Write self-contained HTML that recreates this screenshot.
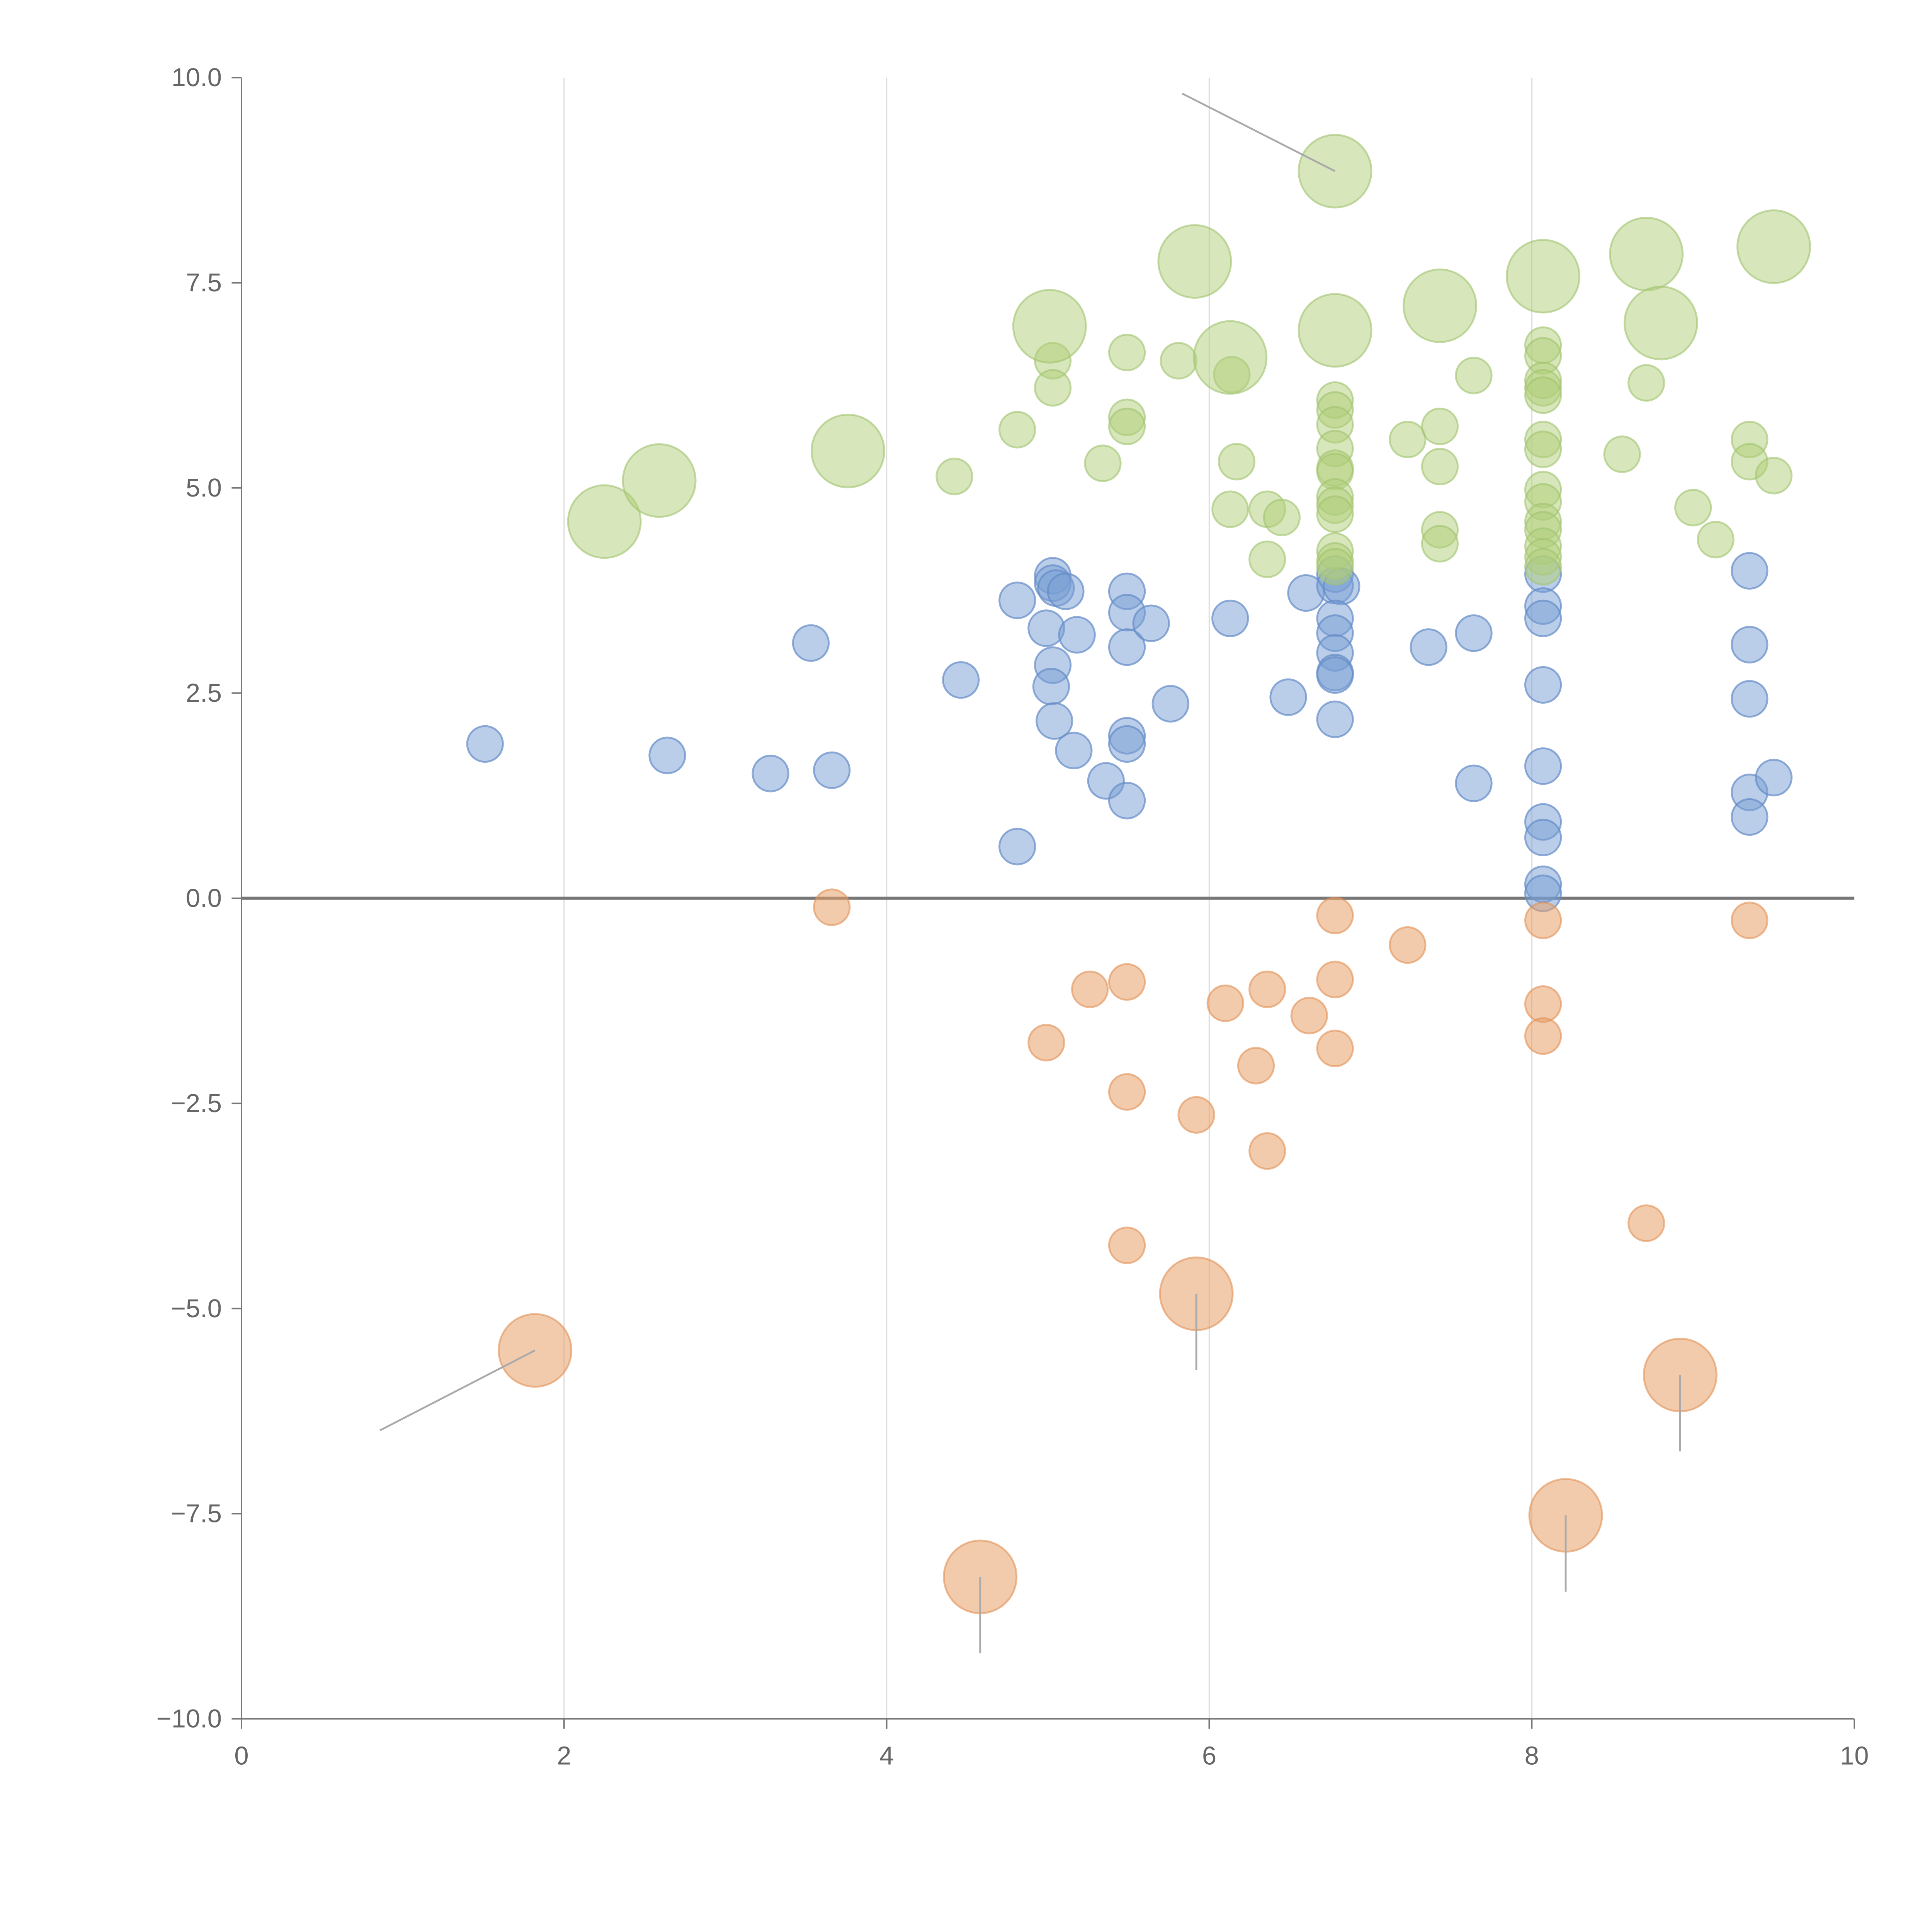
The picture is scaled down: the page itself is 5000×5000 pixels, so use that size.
<!DOCTYPE html>
<html><head><meta charset="utf-8"><style>
html,body{margin:0;padding:0;background:#fff;}
svg{display:block;}
text{font-family:"Liberation Sans",Arial,sans-serif;fill:#666;font-size:21px;}
</style></head>
<body>
<svg id="chart" width="5000" height="5000" viewBox="0 0 1568 1568" xmlns="http://www.w3.org/2000/svg">
<g id="grid"></g>
<g id="axes"></g>
<g id="marks"></g>
</svg>
<script>
const xTicks=[0,2,4,6,8,10];
const yTicks=[10,7.5,5,2.5,0,-2.5,-5,-7.5,-10];
const yTickLabels=["10.0","7.5","5.0","2.5","0.0","\u22122.5","\u22125.0","\u22127.5","\u221210.0"];
const blueX=[1.51,2.64,3.28,3.66,3.53,4.46,4.81,4.81,4.99,5.03,5.03,5.05,5.11,5.03,5.02,5.04,5.16,5.18,5.36,5.49,5.49,5.49,5.49,5.49,5.49,5.64,5.76,6.13,6.49,6.60,6.78,6.78,6.82,6.78,6.78,6.78,6.78,6.78,6.78,7.36,7.64,7.64,8.07,8.07,8.07,8.07,8.07,8.07,8.07,8.07,8.07,9.35,9.35,9.35,9.35,9.35,9.50];
const blueY=[1.88,1.74,1.52,1.56,3.11,2.66,3.63,0.63,3.29,3.93,3.84,3.78,3.74,2.84,2.58,2.16,1.80,3.21,1.43,3.74,3.48,3.06,1.98,1.88,1.19,3.35,2.37,3.41,2.45,3.72,3.95,3.81,3.80,3.41,3.23,2.99,2.75,2.72,2.18,3.06,3.23,1.40,3.95,3.56,3.41,2.60,1.61,0.93,0.74,0.17,0.06,3.99,3.09,2.43,1.29,0.99,1.47];
const greenX=[4.42,4.81,5.03,5.03,5.34,5.49,5.49,5.49,5.81,6.17,6.13,6.14,6.36,6.45,6.36,6.78,6.78,6.78,6.78,6.78,6.78,6.78,6.78,6.78,6.78,6.78,6.78,7.23,7.43,7.43,7.43,7.43,7.64,8.07,8.07,8.07,8.07,8.07,8.07,8.07,8.07,8.07,8.07,8.07,8.07,8.07,8.07,8.56,8.71,9.00,9.14,9.35,9.35,9.50];
const greenY=[5.14,5.71,6.55,6.22,5.30,6.65,5.86,5.75,6.55,5.32,4.74,6.38,4.74,4.64,4.13,6.07,5.95,5.77,5.48,5.24,5.20,4.89,4.79,4.68,4.23,4.11,4.04,5.59,5.75,5.26,4.49,4.32,6.37,6.74,6.61,6.31,6.22,6.13,5.59,5.47,4.98,4.83,4.59,4.49,4.29,4.16,4.04,5.41,6.28,4.76,4.37,5.59,5.32,5.15];
const greenBigX=[2.25,2.59,3.76,5.01,5.91,6.13,6.78,6.78,7.43,8.07,8.71,8.80,9.50];
const greenBigY=[4.59,5.09,5.45,6.97,7.76,6.59,8.86,6.92,7.22,7.58,7.85,7.01,7.94];
const orangeX=[3.66,4.99,5.26,5.49,5.49,5.49,5.92,6.10,6.29,6.36,6.36,6.62,6.78,6.78,6.78,7.23,8.07,8.07,8.07,8.71,9.35];
const orangeY=[-0.11,-1.76,-1.11,-1.02,-2.36,-4.23,-2.64,-1.28,-2.04,-1.11,-3.08,-1.43,-0.21,-0.99,-1.83,-0.57,-0.27,-1.29,-1.68,-3.96,-0.27];
const orangeBigX=[1.82,4.58,5.92,8.21,8.92];
const orangeBigY=[-5.51,-8.27,-4.82,-7.52,-5.81];

const X0=196,X1=1505,Y0=1395,Y1=63;
const sx=v=>X0+(v-0)/(10-0)*(X1-X0);
const sy=v=>Y0-(v+10)/20*(Y0-Y1);
const NS="http://www.w3.org/2000/svg";
function mk(tag,attrs,parent){const e=document.createElementNS(NS,tag);for(const k in attrs)e.setAttribute(k,attrs[k]);parent.appendChild(e);return e;}
const grid=document.getElementById('grid'),axes=document.getElementById('axes'),marks=document.getElementById('marks');

xTicks.forEach(t=>{
  if(t>0&&t<10){const g=mk('line',{x1:sx(t),x2:sx(t),y1:Y1,y2:Y0,stroke:'#dedede','stroke-width':1},grid);
  
  }
  const tk=mk('line',{x1:sx(t),x2:sx(t),y1:Y0,y2:Y0+8,stroke:'#777','stroke-width':1.2},axes);
  
  
  const tx=mk('text',{x:sx(t),y:Y0+37,'text-anchor':'middle'},axes);tx.textContent=t;
  
  
});
yTicks.forEach((t,i)=>{
  const tk=mk('line',{x1:X0-8,x2:X0,y1:sy(t),y2:sy(t),stroke:'#777','stroke-width':1.2},axes);
  
  
  const tx=mk('text',{x:X0-16,y:sy(t)+7,'text-anchor':'end'},axes);tx.textContent=yTickLabels[i];
  
  
});
const ya=mk('line',{x1:X0,x2:X0,y1:Y1,y2:Y0,stroke:'#777','stroke-width':1.2},axes);


const xa=mk('line',{x1:X0,x2:X1,y1:Y0,y2:Y0,stroke:'#777','stroke-width':1.2},axes);


const zl=mk('line',{x1:X0,x2:X1,y1:sy(0),y2:sy(0),stroke:'#777','stroke-width':2.5},axes);



function series(xs,ys,r,fill,stroke,name){
  xs.forEach((x,i)=>{
    const c=mk('circle',{cx:sx(x),cy:sy(ys[i]),r:r,fill:fill,stroke:stroke,'stroke-width':1.5},marks);
    
    
  });
}
function leader(x,y,dx,dy){
  const l=mk('line',{x1:sx(x),y1:sy(y),x2:sx(x)+dx,y2:sy(y)+dy,stroke:'#aaa','stroke-width':1.5},marks);
  
  
}
series(blueX,blueY,14.5,'rgba(120,158,212,0.5)','rgba(100,140,200,0.7)','blue-point');
series(greenX,greenY,14.5,'rgba(175,205,120,0.5)','rgba(160,195,110,0.6)','green-point');
series(orangeX,orangeY,14.5,'rgba(232,160,105,0.55)','rgba(225,145,85,0.6)','orange-point');
series(greenBigX,greenBigY,29.5,'rgba(175,205,120,0.5)','rgba(160,195,110,0.6)','green-large-point');
series(orangeBigX,orangeBigY,29.5,'rgba(232,160,105,0.55)','rgba(225,145,85,0.6)','orange-large-point');
leader(orangeBigX[0],orangeBigY[0],-126,65);
for(let i=1;i<orangeBigX.length;i++)leader(orangeBigX[i],orangeBigY[i],0,62);
leader(greenBigX[6],greenBigY[6],-124,-63);
</script>
</body></html>
